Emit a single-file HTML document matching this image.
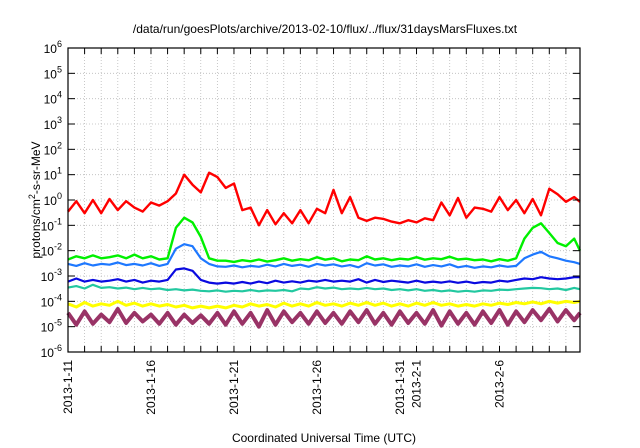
<!DOCTYPE html>
<html><head><meta charset="utf-8">
<style>
html,body{margin:0;padding:0;background:#fff;}
svg{display:block;font-family:"Liberation Sans",sans-serif;}
</style></head>
<body>
<svg id="chart" width="640" height="448" viewBox="0 0 640 448" xmlns="http://www.w3.org/2000/svg">
<rect width="640" height="448" fill="#fff"/>
<text x="325" y="33" font-size="12" text-anchor="middle" fill="#000">/data/run/goesPlots/archive/2013-02-10/flux/../flux/31daysMarsFluxes.txt</text>
<text x="324" y="442" font-size="12" text-anchor="middle" fill="#000">Coordinated Universal Time (UTC)</text>
<text transform="translate(40,200) rotate(-90)" font-size="12" text-anchor="middle" fill="#000">protons/cm<tspan dy="-5" font-size="9">2</tspan><tspan dy="5">-s-sr-MeV</tspan></text>
<g id="grid"></g><g id="series"></g><g id="axes"></g>
</svg>
<script>
const yTickExps = [-6,-5,-4,-3,-2,-1,0,1,2,3,4,5,6];
const xTickLabels = ["2013-1-11","2013-1-16","2013-1-21","2013-1-26","2013-1-31","2013-2-1","2013-2-6"];
const xTickDays = [0,5,10,15,20,21,26];
const times = [];
for (let i = 0; i < 62; i++) times.push(i / 2);
times.push(30.85);
const red = [0.35,0.9,0.3,1.0,0.3,1.1,0.4,0.9,0.5,0.35,0.8,0.6,0.9,1.8,10,4,2,12,8,3,4.5,0.4,0.5,0.1,0.4,0.11,0.3,0.12,0.4,0.12,0.45,0.3,2.5,0.3,1.3,0.2,0.15,0.2,0.18,0.14,0.12,0.16,0.13,0.19,0.16,0.8,0.25,1.2,0.2,0.5,0.45,0.35,1.3,0.4,1.0,0.3,1.1,0.25,2.8,1.7,0.85,1.3,0.85];
const green = [4.5e-3,6e-3,5e-3,6.5e-3,5e-3,5.5e-3,6.5e-3,5e-3,7e-3,5e-3,6e-3,4.5e-3,5e-3,0.08,0.2,0.13,0.035,5e-3,4e-3,4e-3,3.6e-3,4.2e-3,3.8e-3,4.5e-3,3.7e-3,4.2e-3,5e-3,4e-3,4.6e-3,4.2e-3,5.5e-3,4.4e-3,5e-3,3.8e-3,4.5e-3,4.2e-3,6e-3,4.5e-3,5e-3,4.2e-3,4.8e-3,4.5e-3,5.5e-3,4.4e-3,5e-3,4.6e-3,5.8e-3,4.5e-3,4.8e-3,4.2e-3,4.5e-3,3.8e-3,4.6e-3,4e-3,5e-3,0.03,0.08,0.12,0.05,0.02,0.015,0.03,0.01];
const lightBlue = [3e-3,2.5e-3,3.2e-3,2.6e-3,3e-3,2.8e-3,3.4e-3,2.7e-3,3e-3,2.6e-3,3.2e-3,2.5e-3,3e-3,0.012,0.018,0.015,5e-3,3e-3,2.4e-3,2.3e-3,2.6e-3,2.2e-3,2.5e-3,2.3e-3,2.8e-3,2.4e-3,3e-3,2.5e-3,2.8e-3,2.3e-3,3e-3,2.6e-3,2.9e-3,2.4e-3,2.7e-3,2.2e-3,3.2e-3,2.6e-3,2.9e-3,2.3e-3,2.6e-3,2.4e-3,2.9e-3,2.3e-3,2.7e-3,2.4e-3,2.9e-3,2.2e-3,2.5e-3,2.1e-3,2.4e-3,2.2e-3,2.6e-3,2.3e-3,2.5e-3,5e-3,7e-3,9e-3,6e-3,5e-3,4e-3,3.5e-3,3e-3];
const blue = [6e-4,8e-4,6e-4,7e-4,6e-4,6.5e-4,7.5e-4,6e-4,7e-4,5.5e-4,6.5e-4,6e-4,7e-4,1.8e-3,2e-3,1.6e-3,7e-4,5.5e-4,5e-4,5.5e-4,5e-4,5.8e-4,5e-4,6e-4,5.2e-4,6.5e-4,5.5e-4,6.2e-4,5.5e-4,6.5e-4,6e-4,7e-4,6e-4,6.5e-4,6e-4,7.5e-4,5.5e-4,7e-4,5.8e-4,6.5e-4,6e-4,5.5e-4,6.5e-4,5.5e-4,6e-4,5.5e-4,6.2e-4,5.4e-4,6e-4,5.2e-4,5.8e-4,5.5e-4,6.5e-4,6e-4,7e-4,8e-4,7.5e-4,9e-4,8e-4,7.5e-4,8e-4,9e-4,9e-4];
const teal = [3.5e-4,4e-4,3.2e-4,4.5e-4,3.4e-4,3.6e-4,3.2e-4,3.5e-4,3e-4,3.4e-4,3e-4,3.2e-4,2.8e-4,3e-4,2.7e-4,2.9e-4,2.6e-4,2.5e-4,2.7e-4,2.4e-4,2.6e-4,2.5e-4,2.8e-4,2.5e-4,2.7e-4,2.6e-4,2.8e-4,2.5e-4,3.2e-4,3e-4,3.6e-4,3.2e-4,3.5e-4,3e-4,3.2e-4,3e-4,3.4e-4,3e-4,3.2e-4,2.8e-4,3e-4,2.7e-4,3e-4,2.6e-4,2.8e-4,2.5e-4,2.7e-4,2.4e-4,2.6e-4,2.4e-4,2.7e-4,2.6e-4,2.9e-4,2.8e-4,3e-4,3.2e-4,3.4e-4,3.3e-4,3e-4,3.2e-4,2.8e-4,3.4e-4,3e-4];
const yellow = [8e-5,6e-5,9e-5,6.5e-5,8e-5,7e-5,1e-4,7e-5,8.5e-5,6.5e-5,8e-5,6.5e-5,7.5e-5,6e-5,7e-5,5.5e-5,6.5e-5,5.5e-5,6.5e-5,5.5e-5,7e-5,6e-5,8e-5,6.5e-5,7.5e-5,6e-5,8.5e-5,6.5e-5,8e-5,6.5e-5,9e-5,7e-5,8e-5,6.5e-5,8.5e-5,7e-5,9e-5,7e-5,8.5e-5,6.5e-5,8e-5,6.5e-5,8.5e-5,7e-5,9e-5,7e-5,8e-5,6.5e-5,7.5e-5,6.5e-5,8e-5,7e-5,8.5e-5,7.5e-5,9e-5,8e-5,9.5e-5,8e-5,1e-4,8.5e-5,1e-4,9e-5,1e-4];
const maroon = [3.5e-5,1.2e-5,4e-5,1.3e-5,3e-5,1.5e-5,5e-5,1.4e-5,3.5e-5,1.6e-5,3e-5,1.3e-5,3.5e-5,1.2e-5,3e-5,1.4e-5,2.8e-5,1.3e-5,3.5e-5,1.2e-5,4e-5,1.3e-5,3.5e-5,1e-5,4.5e-5,1.2e-5,4e-5,1.5e-5,3.5e-5,1.3e-5,4e-5,1.4e-5,3.5e-5,1.3e-5,4e-5,1.5e-5,4.5e-5,1.3e-5,3.5e-5,1.2e-5,4e-5,1.4e-5,3.5e-5,1.3e-5,4.5e-5,1.1e-5,4e-5,1.3e-5,3.5e-5,1.2e-5,4e-5,1.4e-5,4.5e-5,1.2e-5,4e-5,1.5e-5,4.5e-5,1.8e-5,5e-5,1.6e-5,4.5e-5,1.8e-5,3.5e-5];

const L = 68, R = 580, T = 48, B = 352;
const DAYMAX = 30.85;
const xScale = d => L + (d / DAYMAX) * (R - L);
const yScale = v => B - ((Math.log10(v) + 6) / 12) * (B - T);
const NS = "http://www.w3.org/2000/svg";
function mk(tag, parent, attrs) {
  const el = document.createElementNS(NS, tag);
  for (const k in attrs) el.setAttribute(k, attrs[k]);
  parent.appendChild(el);
  return el;
}
const grid = document.getElementById('grid');
const axes = document.getElementById('axes');
const series = document.getElementById('series');
yTickExps.forEach(e => {
  const y = yScale(Math.pow(10, e));
  if (e > -6 && e < 6) {
    const g = mk('line', grid, {x1:L, x2:R, y1:y, y2:y, stroke:'#bbb', 'stroke-width':0.8, 'stroke-dasharray':'1,2'});
    
    
  }
  const t1 = mk('line', axes, {x1:L, x2:L+7, y1:y, y2:y, stroke:'#000', 'stroke-width':1});
  
  
  const t2 = mk('line', axes, {x1:R-7, x2:R, y1:y, y2:y, stroke:'#000', 'stroke-width':1});
  
  
  const lab = mk('text', axes, {x:L-6, y:y+5, 'font-size':12, 'text-anchor':'end', fill:'#000'});
  
  
  lab.textContent = '10';
  const sup = mk('tspan', lab, {dy:-6, 'font-size':9});
  sup.textContent = String(e);
});
for (let d = 1; d <= 30; d++) {
  const x = xScale(d);
  const g = mk('line', grid, {x1:x, x2:x, y1:T, y2:B, stroke:'#bbb', 'stroke-width':0.8, 'stroke-dasharray':'1,2'});
  
  
  const t1 = mk('line', axes, {x1:x, x2:x, y1:B-6, y2:B, stroke:'#000', 'stroke-width':1});
  
  
  const t2 = mk('line', axes, {x1:x, x2:x, y1:T, y2:T+6, stroke:'#000', 'stroke-width':1});
  
  
}
xTickLabels.forEach((s, i) => {
  const x = xScale(xTickDays[i]);
  const lab = mk('text', axes, {transform:`translate(${x+4},${B+8}) rotate(-90)`, 'font-size':12, 'text-anchor':'end', fill:'#000'});
  
  
  lab.textContent = s;
});
const frame = mk('rect', axes, {x:L, y:T, width:R-L, height:B-T, fill:'none', stroke:'#000', 'stroke-width':1.2});


const defs = [
  ['maroon-series', maroon, '#993366', 4],
  ['yellow-series', yellow, '#ffff00', 3],
  ['teal-series', teal, '#22c8a0', 2.2],
  ['blue-series', blue, '#0a0ae0', 2.2],
  ['light-blue-series', lightBlue, '#1e78ff', 2.2],
  ['green-series', green, '#00f000', 2.4],
  ['red-series', red, '#ff0000', 2.4]
];
defs.forEach(([name, vals, col, w]) => {
  const pts = vals.map((v, i) => xScale(times[i]).toFixed(1) + ',' + yScale(v).toFixed(1)).join(' ');
  const p = mk('polyline', series, {points:pts, fill:'none', stroke:col, 'stroke-width':w, 'stroke-linejoin':'round'});
  
  
});
</script>
</body></html>
